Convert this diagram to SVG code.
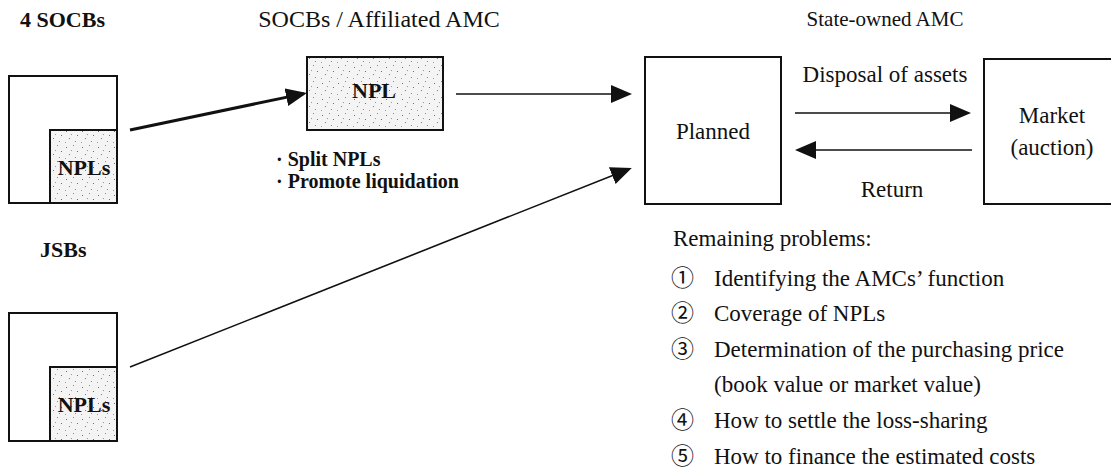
<svg xmlns="http://www.w3.org/2000/svg" width="1111" height="473" viewBox="0 0 1111 473">
<style>
text{font-family:"Liberation Serif","Times New Roman",serif;fill:#111}
.r{font-size:23px}
.b{font-size:22px;font-weight:bold}
.bl{font-size:20px;font-weight:bold}
.box{fill:#fff;stroke:#111;stroke-width:2}
.stip{fill:url(#stip);stroke:#111;stroke-width:2}
.ln{stroke:#111;stroke-width:1.6;fill:none}
.thick{stroke:#111;stroke-width:3;fill:none}
.c{font-family:"Noto Sans CJK JP","DejaVu Sans",sans-serif;font-size:23px}
</style>
<defs>
<pattern id="stip" width="16" height="16" patternUnits="userSpaceOnUse">
<rect width="16" height="16" fill="#f4f4f4"/>
<rect x="2" y="3" width="1" height="1" fill="#6a6a6a"/>
<rect x="9" y="1" width="1" height="1" fill="#8a8a8a"/>
<rect x="13" y="7" width="1" height="1" fill="#6a6a6a"/>
<rect x="5" y="10" width="1" height="1" fill="#7a7a7a"/>
<rect x="11" y="13" width="1" height="1" fill="#8a8a8a"/>
<rect x="1" y="14" width="1" height="1" fill="#9a9a9a"/>
<rect x="7" y="6" width="1" height="1" fill="#9a9a9a"/>
</pattern>
<marker id="ah" markerUnits="userSpaceOnUse" markerWidth="22" markerHeight="20" viewBox="0 0 22 20" refX="18" refY="9" orient="auto">
<path d="M0,0 L21,9 L0,18 z" fill="#111"/>
</marker>
</defs>

<g id="title-socbs"><text class="b" x="20" y="27">4 SOCBs</text></g>
<g id="title-affiliated"><text class="r" x="379" y="27" text-anchor="middle" style="font-size:24px">SOCBs / Affiliated AMC</text></g>
<g id="title-state"><text class="r" x="885" y="26" text-anchor="middle" style="font-size:21px">State-owned AMC</text></g>
<g id="title-jsbs"><text class="b" x="40" y="257">JSBs</text></g>

<g id="socbs-bank">
<rect class="box" x="9" y="76" width="108" height="127"/>
<rect class="stip" x="50" y="130" width="67" height="73"/>
<text class="b" x="84" y="175" text-anchor="middle">NPLs</text>
</g>

<g id="jsbs-bank">
<rect class="box" x="9" y="313" width="108" height="128"/>
<rect class="stip" x="50" y="367" width="67" height="74"/>
<text class="b" x="84" y="412" text-anchor="middle">NPLs</text>
</g>

<g id="npl">
<rect class="stip" x="307" y="57" width="136" height="73"/>
<text class="b" x="374" y="98" text-anchor="middle">NPL</text>
<text class="bl" x="276" y="166">· Split NPLs</text>
<text class="bl" x="276" y="188">· Promote liquidation</text>
</g>

<g id="planned">
<rect class="box" x="645" y="57" width="136" height="147"/>
<text class="r" x="713" y="139" text-anchor="middle">Planned</text>
</g>

<g id="market">
<rect class="box" x="984" y="59" width="140" height="145"/>
<text class="r" x="1052" y="123" text-anchor="middle">Market</text>
<text class="r" x="1052" y="155" text-anchor="middle">(auction)</text>
</g>

<g id="connectors">
<line class="thick" x1="130" y1="130" x2="304" y2="93.6" marker-end="url(#ah)"/>
<line class="ln" x1="456" y1="94" x2="629" y2="94" marker-end="url(#ah)"/>
<line class="ln" x1="130" y1="367" x2="629" y2="169" marker-end="url(#ah)"/>
<line class="ln" x1="795" y1="113" x2="968" y2="113" marker-end="url(#ah)"/>
<line class="ln" x1="972" y1="150" x2="798" y2="150" marker-end="url(#ah)"/>
<text class="r" x="885" y="82" text-anchor="middle">Disposal of assets</text>
<text class="r" x="892" y="197" text-anchor="middle">Return</text>
</g>

<g id="problems">
<text class="r" x="673" y="246">Remaining problems:</text>
<text class="c" x="671" y="286">①</text>
<text class="r" x="714" y="286">Identifying the AMCs’ function</text>
<text class="c" x="671" y="321">②</text>
<text class="r" x="714" y="321">Coverage of NPLs</text>
<text class="c" x="671" y="357">③</text>
<text class="r" x="714" y="357">Determination of the purchasing price</text>
<text class="r" x="714" y="392">(book value or market value)</text>
<text class="c" x="671" y="428">④</text>
<text class="r" x="714" y="428">How to settle the loss-sharing</text>
<text class="c" x="671" y="464">⑤</text>
<text class="r" x="714" y="464">How to finance the estimated costs</text>
</g>
</svg>
